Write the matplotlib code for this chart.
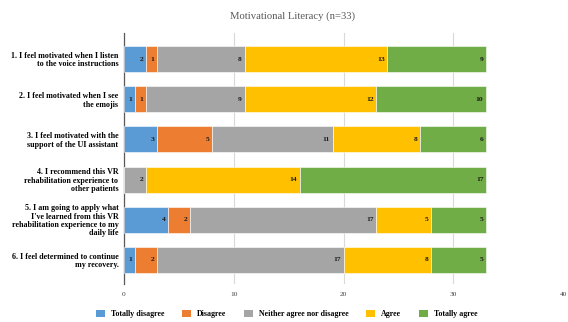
import numpy as np
import matplotlib
matplotlib.use('Agg')
import matplotlib.pyplot as plt
from matplotlib.patches import Patch

plt.rcParams['font.family'] = ['Liberation Serif', 'DejaVu Serif']

QUESTIONS = [
    '1. I feel motivated when I listen\nto the voice instructions',
    '2. I feel motivated when I see\nthe emojis',
    '3. I feel motivated with the\nsupport of the UI assistant',
    '4. I recommend this VR\nrehabilitation experience to\nother patients',
    '5. I am going to apply what\nI\'ve learned from this VR\nrehabilitation experience to my\ndaily life',
    '6. I feel determined to continue\nmy recovery.',
]
CATEGORIES = ['Totally disagree', 'Disagree', 'Neither agree nor disagree', 'Agree', 'Totally agree']
COLORS = ['#5B9BD5', '#ED7D31', '#A5A5A5', '#FFC000', '#70AD47']

totally_disagree = [2, 1, 3, 0, 4, 1]
disagree = [1, 1, 5, 0, 2, 2]
neither = [8, 9, 11, 2, 17, 17]
agree = [13, 12, 8, 14, 5, 8]
totally_agree = [9, 10, 6, 17, 5, 5]
SERIES = [totally_disagree, disagree, neither, agree, totally_agree]
XTICKS = [0, 10, 20, 30, 40]

fig = plt.figure(figsize=(5.68, 3.22), dpi=100)
ax = fig.add_axes([124/568, 1-284/322, (563-124)/568, (284-33)/322])

y = np.arange(len(QUESTIONS))
left = np.zeros(len(QUESTIONS))
for vals, col, name in zip(SERIES, COLORS, CATEGORIES):
    vals = np.array(vals, dtype=float)
    ax.barh(y, vals, left=left, height=0.65, color=col, edgecolor='white', linewidth=0.4, label=name, zorder=3)
    for yi, l, v in zip(y, left, vals):
        if v > 0:
            ax.text(l + v - 0.25, yi, f'{int(v)}', ha='right', va='center',
                    fontsize=5.4, fontweight='bold', color='#1a1a1a', zorder=4)
    left += vals

ax.set_xlim(0, 40)
ax.set_ylim(5.6, -0.65)
ax.set_xticks(XTICKS)
ax.set_xticklabels([str(t) for t in XTICKS], fontsize=5.3, color='#404040')
ax.set_yticks(y)
ax.set_yticklabels(QUESTIONS, fontsize=5.8, fontweight='bold', linespacing=1.05)
ax.tick_params(axis='both', length=0, pad=6)
ax.tick_params(axis='y', pad=4)
ax.grid(axis='x', color='#D9D9D9', linewidth=0.8, zorder=0)
for s in ['top', 'right', 'bottom']:
    ax.spines[s].set_visible(False)
ax.spines['left'].set_color('#595959')
ax.spines['left'].set_linewidth(0.9)

fig.text(292/568, 1-16/322, 'Motivational Literacy (n=33)', ha='center', va='center',
         fontsize=7.7, color='#595959')

handles = [Patch(facecolor=c, label=n) for c, n in zip(COLORS, CATEGORIES)]
fig.legend(handles=handles, loc='center', bbox_to_anchor=(287/568, 1-314/322), ncol=5,
           frameon=False, prop={'size': 5.7, 'weight': 'bold'}, handlelength=1.1,
           handleheight=1.1, columnspacing=2.2, handletextpad=0.8)

fig.savefig('out.png', dpi=100)
